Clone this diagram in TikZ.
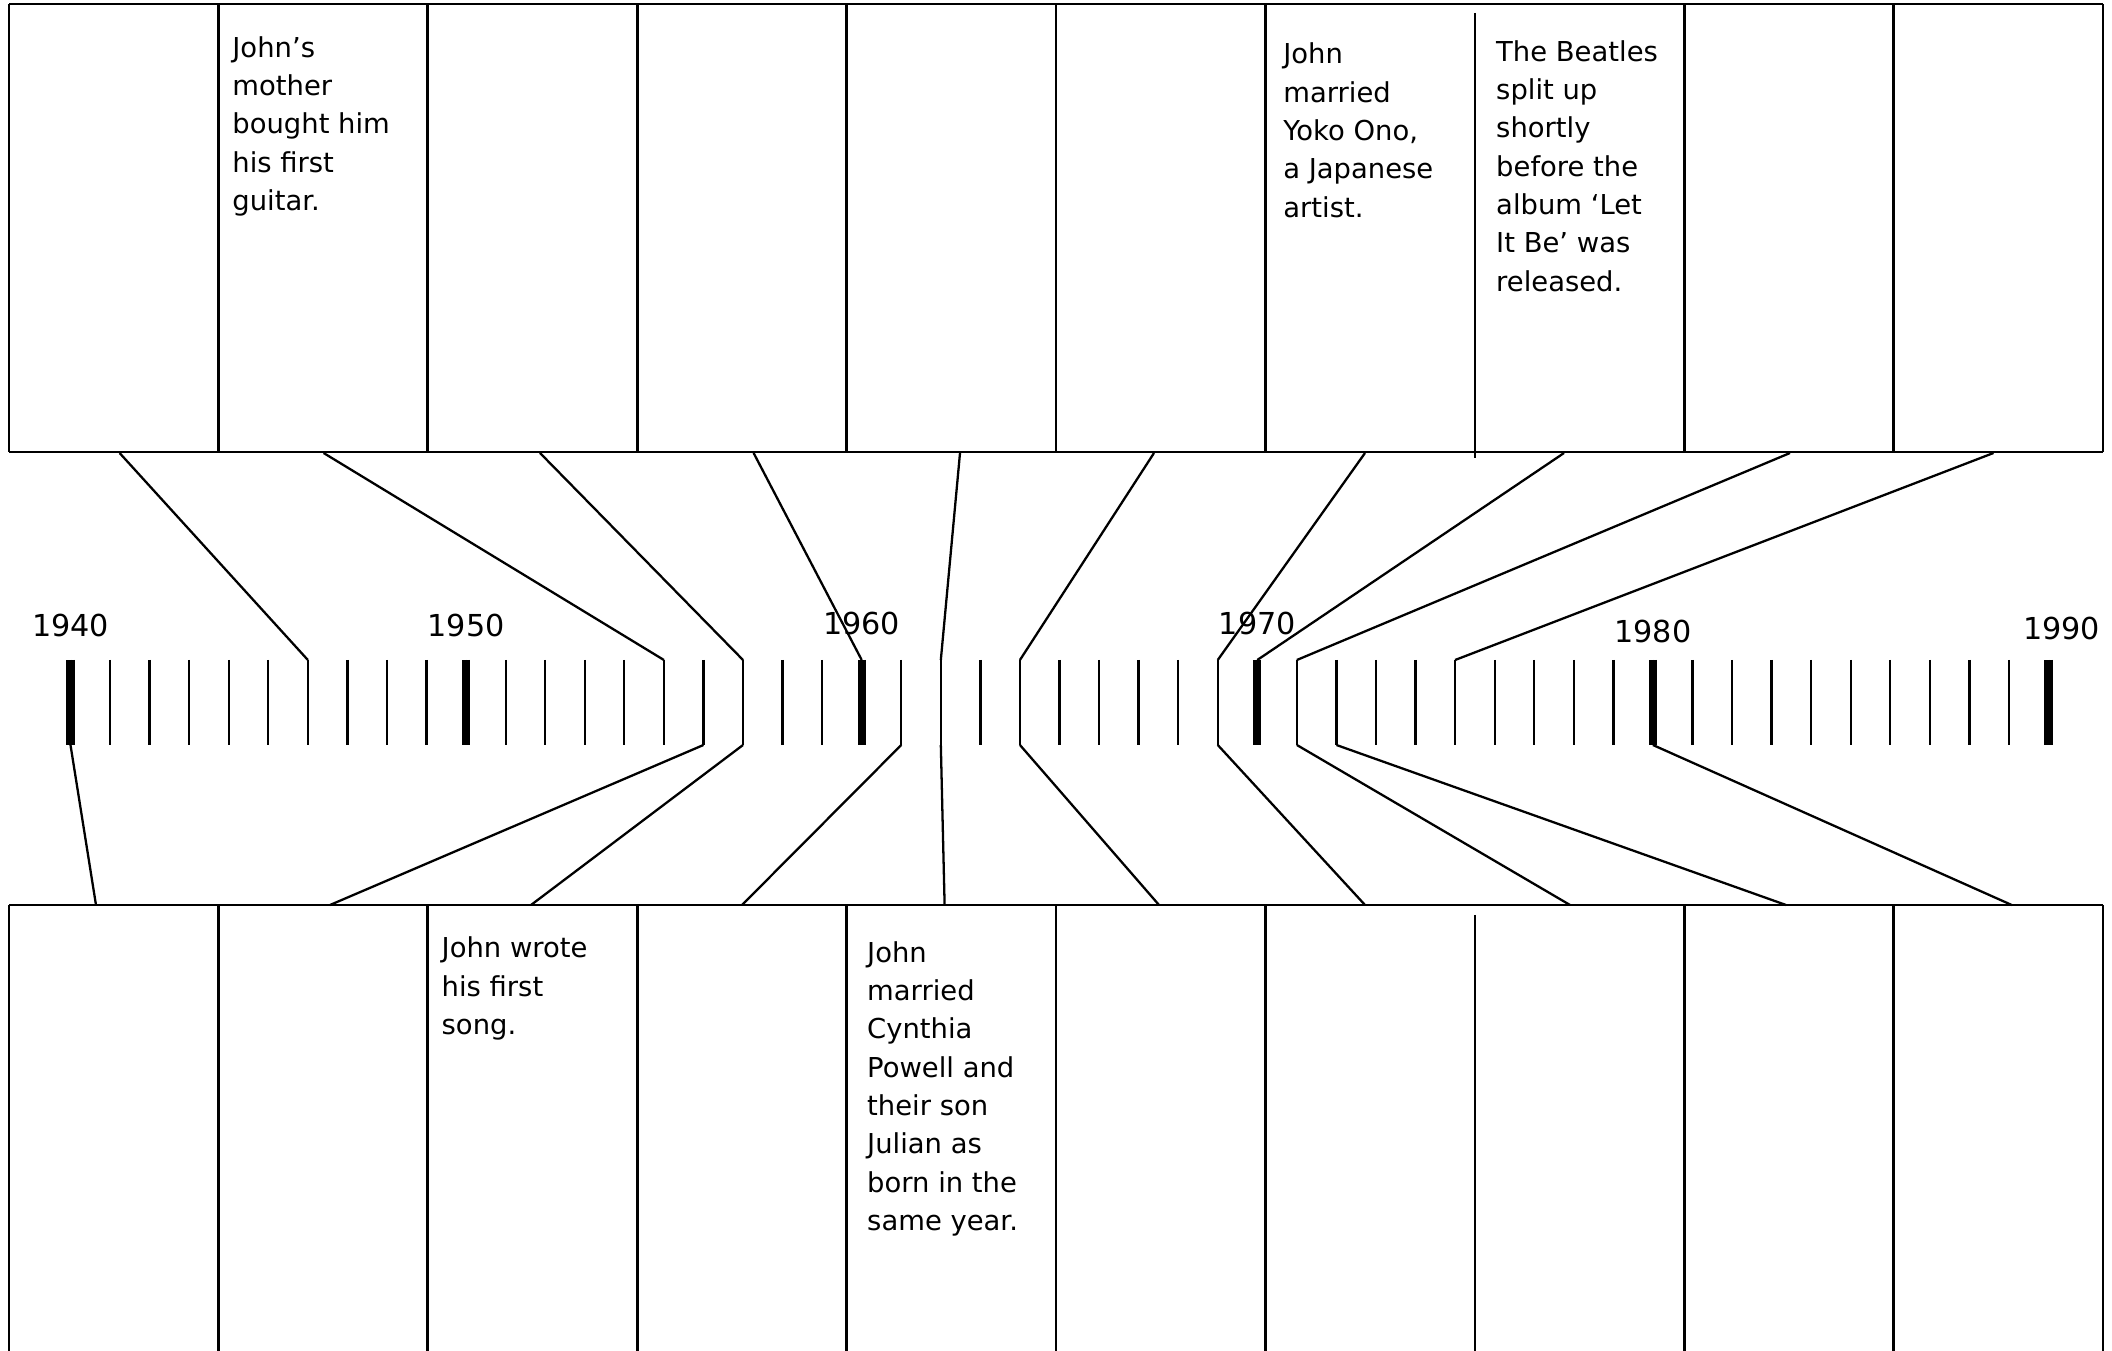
\documentclass[tikz,border=0pt]{standalone}
\usepackage{fontspec}
\setmainfont{DejaVu Sans}

\begin{document}
\begin{tikzpicture}[x=0.1mm,y=-0.1mm,line join=round,
  frame/.style={line width=0.75pt},
  link/.style={line width=0.65pt},
  tick/.style={line width=0.65pt},
  bigtick/.style={line width=2.3pt},
  note/.style={anchor=north west,inner sep=0pt,align=left,font=\fontsize{7.8pt}{10.9pt}\selectfont},
  yearlabel/.style={anchor=base,inner sep=0pt,font=\fontsize{8.6pt}{10pt}\selectfont}]

  \useasboundingbox (0,0) rectangle (2112,1351);

  % top row of boxes
  \draw[frame] (9,4) -- (2103,4);
  \draw[frame] (9,452) -- (2103,452);
  \foreach \i [evaluate=\i as \x using 9+209.4*\i] in {0,1,2,3,4,5,6,8,9,10}
    \draw[frame] (\x,4) -- (\x,452);
  \draw[frame] (1474.8,13) -- (1474.8,458);

  % bottom row of boxes
  \draw[frame] (9,905) -- (2103,905);
  \foreach \i [evaluate=\i as \x using 9+209.4*\i] in {0,1,2,3,4,5,6,8,9,10}
    \draw[frame] (\x,905) -- (\x,1351);
  \draw[frame] (1474.8,915) -- (1474.8,1351);

  % time line, one tick a year
  \foreach \yr [evaluate=\yr as \x using 70.5+39.56*(\yr-1940)] in {1940,...,1990} {
    \coordinate (up\yr) at (\x,660);
    \coordinate (dn\yr) at (\x,745);
    \draw[tick] (up\yr) -- (dn\yr);
  }
  \foreach \yr in {1940,1950,...,1990}
    \draw[bigtick] (up\yr) -- (dn\yr);

  % decade labels
  \foreach \yr/\dx/\by [evaluate=\yr as \x using 70.5+39.56*(\yr-1940)+\dx] in
      {1940/0/637,1950/0/637,1960/0/635,1970/0/635,1980/0/643,1990/13/640}
    \node[yearlabel] (lab\yr) at (\x,\by) {\yr};

  % where the connectors meet the boxes
  \foreach \c/\x in {1/119.6,2/323.6,3/540,4/753.6,5/960,6/1154,7/1365,8/1564,9/1790,10/1993.5}
    \coordinate (tc\c) at (\x,453);
  \foreach \c/\x in {1/96,2/330,3/531,4/742,5/944.6,6/1159,7/1365,8/1570,9/1786,10/2011.7}
    \coordinate (bc\c) at (\x,905);

  % connectors
  \foreach \c/\yr in {1/1946,2/1955,3/1957,4/1960,5/1962,6/1964,7/1969,8/1970,9/1971,10/1975}
    \draw[link] (tc\c) -- (up\yr);
  \foreach \c/\yr in {1/1940,2/1956,3/1957,4/1961,5/1962,6/1964,7/1969,8/1971,9/1972,10/1980}
    \draw[link] (dn\yr) -- (bc\c);

  % events
  \node[note] (guitar) at (231.7,35.8) {John’s\\mother\\bought him\\his first\\guitar.};
  \node[note] (yoko) at (1282.6,42.4) {John\\married\\Yoko Ono,\\a Japanese\\artist.};
  \node[note] (splitup) at (1495.5,39.8) {The Beatles\\split up\\shortly\\before the\\album ‘Let\\It Be’ was\\released.};
  \node[note] (song) at (441,936.4) {John wrote\\his first\\song.};
  \node[note] (cynthia) at (866.5,940.8) {John\\married\\Cynthia\\Powell and\\their son\\Julian as\\born in the\\same year.};

\end{tikzpicture}
\end{document}
